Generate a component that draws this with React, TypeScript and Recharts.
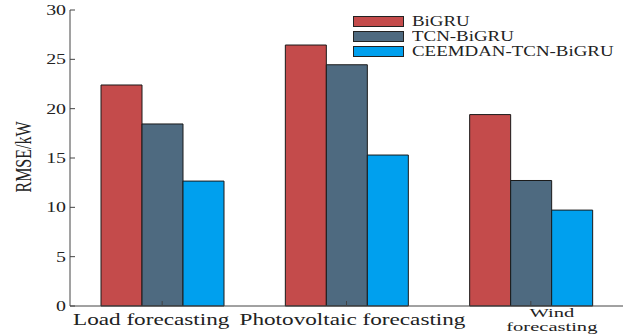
import React from 'react';
import { BarChart, Bar, XAxis, YAxis, Legend } from 'recharts';

const categories = ['Load forecasting', 'Photovoltaic forecasting', 'Wind\nforecasting'];
const bigru = [22.4, 26.45, 19.4];
const tcnBigru = [18.45, 24.45, 12.72];
const ceemdanTcnBigru = [12.66, 15.3, 9.72];
const yTicks = [0, 5, 10, 15, 20, 25, 30];

const SERIES = [
  { key: 'bigru', name: 'BiGRU', color: '#C44B4B' },
  { key: 'tcn', name: 'TCN-BiGRU', color: '#4E6A80' },
  { key: 'ceemdan', name: 'CEEMDAN-TCN-BiGRU', color: '#00A0EE' },
];

const data = categories.map((name, i) => ({
  name,
  bigru: bigru[i],
  tcn: tcnBigru[i],
  ceemdan: ceemdanTcnBigru[i],
}));

const FONT = '"Liberation Serif", "Times New Roman", serif';
const AXIS = '#444';
const STRETCH = 1.45;
// horizontal nudge of each category label, as in the source figure
const LABEL_DX = [-11, 6, 21];

function YTick({ x, y, payload }: any) {
  return (
    <g>
      <line x1={x} y1={y} x2={x + 5} y2={y} stroke={AXIS} />
      <text
        transform={`translate(${x - 4},${y + 5}) scale(1.42,1)`}
        textAnchor="end"
        fontFamily={FONT}
        fontSize={14}
        fill="#222"
      >
        {payload.value}
      </text>
    </g>
  );
}

function XTick({ x, y, payload, index }: any) {
  const lines = String(payload.value).split('\n');
  const cx = x + (LABEL_DX[index] ?? 0);
  const multi = lines.length > 1;
  return (
    <g>
      <line x1={x} y1={y} x2={x} y2={y - 5} stroke={AXIS} />
      <text
        transform={`translate(${cx},${y + (multi ? 10.5 : 19)}) scale(${multi ? 1.52 : STRETCH},1)`}
        textAnchor="middle"
        fontFamily={FONT}
        fontSize={multi ? 13.5 : 16}
        fill="#222"
      >
        {lines.map((l, i) => (
          <tspan key={i} x={0} dy={i === 0 ? 0 : 15}>
            {l}
          </tspan>
        ))}
      </text>
    </g>
  );
}

function LegendBox() {
  return (
    <div style={{ fontFamily: FONT, fontSize: 15, color: '#222' }}>
      {SERIES.map((s) => (
        <div key={s.key} style={{ display: 'flex', alignItems: 'center', height: 15 }}>
          <div
            style={{
              width: 49,
              height: 9,
              background: s.color,
              border: '1px solid #222',
              marginRight: 8,
            }}
          />
          <span
            style={{
              display: 'inline-block',
              transform: 'scaleX(1.26)',
              transformOrigin: 'left center',
              lineHeight: '15px',
              whiteSpace: 'nowrap',
            }}
          >
            {s.name}
          </span>
        </div>
      ))}
    </div>
  );
}

export default function App() {
  return (
    <div style={{ position: 'absolute', left: 0, top: 0, background: '#fff' }}>
      <BarChart
        width={632}
        height={336}
        data={data}
        margin={{ top: 10, right: 9, left: 0, bottom: 0 }}
        barGap={0}
        barSize={41}
      >
        <XAxis
          dataKey="name"
          axisLine={{ stroke: AXIS }}
          tickLine={false}
          tickSize={0}
          tickMargin={0}
          tick={<XTick />}
          interval={0}
          height={30}
        />
        <XAxis
          xAxisId="top"
          dataKey="name"
          orientation="top"
          axisLine={{ stroke: AXIS }}
          tick={false}
          tickLine={false}
          height={0}
        />
        <YAxis
          domain={[0, 30]}
          ticks={yTicks}
          axisLine={{ stroke: AXIS }}
          tickLine={false}
          tickSize={0}
          tickMargin={0}
          tick={<YTick />}
          width={70}
        />
        <YAxis
          yAxisId="right"
          orientation="right"
          domain={[0, 30]}
          axisLine={{ stroke: AXIS }}
          tick={false}
          tickLine={false}
          width={0}
        />
        <Legend
          content={<LegendBox />}
          layout="horizontal"
          verticalAlign="middle"
          align="center"
          wrapperStyle={{ position: 'absolute', top: 14, left: 353, width: 270 }}
        />
        {SERIES.map((s) => (
          <Bar
            key={s.key}
            dataKey={s.key}
            name={s.name}
            fill={s.color}
            stroke="#1a1a1a"
            strokeWidth={1}
            isAnimationActive={false}
          />
        ))}
        <text
          transform="translate(31,157) scale(1.4,1) rotate(-90)"
          textAnchor="middle"
          fontFamily={FONT}
          fontSize={16}
          fill="#222"
        >
          RMSE/kW
        </text>
      </BarChart>
    </div>
  );
}
